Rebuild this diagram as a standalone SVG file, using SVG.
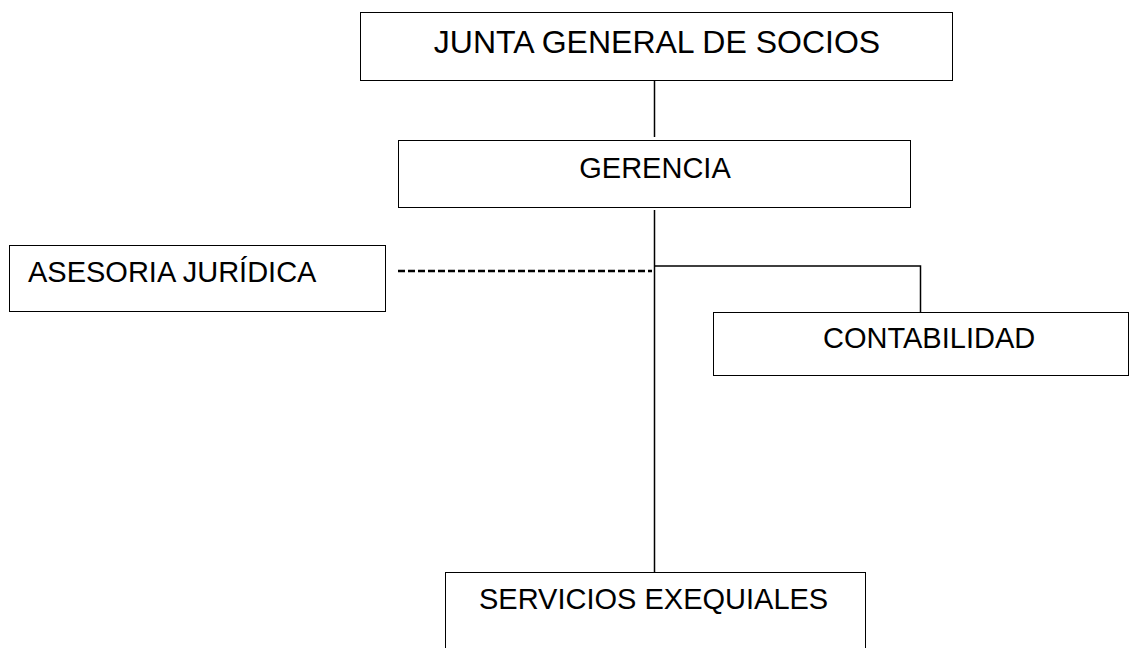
<svg xmlns="http://www.w3.org/2000/svg" width="1130" height="648" viewBox="0 0 1130 648">
<style>
.box{fill:#fff;stroke:#000;stroke-width:1}
.t{font-family:"Liberation Sans",Arial,sans-serif;font-size:29px;fill:#000}
.ln{stroke:#000;stroke-width:1.5;fill:none}
.dash{stroke:#000;stroke-width:2.5;stroke-dasharray:7,3;fill:none}
</style>
<rect width="1130" height="648" fill="#fff"/>
<g id="connectors">
<line class="ln" x1="654.5" y1="81" x2="654.5" y2="137"/>
<line class="ln" x1="654.5" y1="210" x2="654.5" y2="572"/>
<polyline class="ln" points="654.5,266 920.5,266 920.5,312"/>
<line class="dash" x1="398" y1="271" x2="652" y2="271"/>
</g>
<g id="junta">
<rect class="box" x="360.5" y="12.5" width="592" height="68"/>
<text class="t" x="657" y="53" text-anchor="middle" style="font-size:32px">JUNTA GENERAL DE SOCIOS</text>
</g>
<g id="gerencia">
<rect class="box" x="398.5" y="140.5" width="512" height="67"/>
<text class="t" x="655" y="178" text-anchor="middle">GERENCIA</text>
</g>
<g id="asesoria">
<rect class="box" x="9.5" y="245.5" width="376" height="66"/>
<text class="t" x="28" y="282">ASESORIA JURÍDICA</text>
</g>
<g id="contabilidad">
<rect class="box" x="713.5" y="312.5" width="415" height="63"/>
<text class="t" x="823" y="348">CONTABILIDAD</text>
</g>
<g id="servicios">
<rect class="box" x="445.5" y="572.5" width="420" height="80"/>
<text class="t" x="479" y="609">SERVICIOS EXEQUIALES</text>
</g>
</svg>
